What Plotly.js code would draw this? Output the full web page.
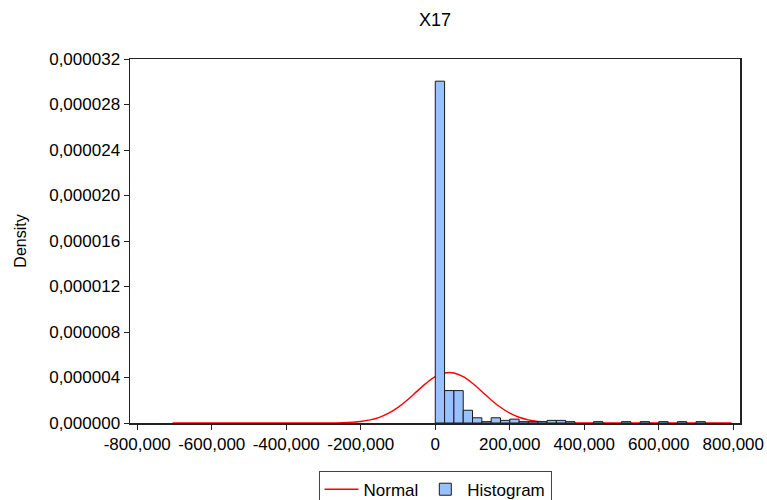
<!DOCTYPE html>
<html>
<head>
<meta charset="utf-8">
<script src="https://cdn.plot.ly/plotly-3.0.1.min.js"></script>
<style>
  html, body { margin: 0; padding: 0; background: #ffffff; }
  #chart { width: 767px; height: 500px; }
</style>
</head>
<body>
<div id="chart"></div>
<script>
// Histogram bins (bin start, width 25,000) and densities
var binStart = [0, 25000, 50000, 75000, 100000, 125000, 150000, 175000, 200000, 225000,
                250000, 275000, 300000, 325000, 350000, 425000, 500000, 550000, 600000, 650000, 700000];
var binDensity = [3.005e-5, 2.85e-6, 2.85e-6, 1.12e-6, 4.6e-7, 1.2e-7, 4.6e-7, 2.3e-7, 3.4e-7, 1.2e-7,
                  1.2e-7, 1.2e-7, 2.3e-7, 2.3e-7, 1.2e-7, 1.2e-7, 1.2e-7, 1.2e-7, 1.2e-7, 1.2e-7, 1.2e-7];
var binWidth = 25000;

// Normal curve points
var normX = [-705000, -400000, -300000, -250000, -200000, -175000, -150000, -125000, -100000, -75000,
             -50000, -25000, 0, 25000, 37600, 50000, 75000, 100000, 125000, 150000,
             175000, 200000, 225000, 250000, 275000, 325000, 400000, 500000, 795000];
var normY = [0, 0, 3.8e-9, 2.66e-8, 1.35e-7, 2.70e-7, 5.02e-7, 8.63e-7, 1.375e-6, 2.025e-6,
             2.76e-6, 3.48e-6, 4.07e-6, 4.40e-6, 4.44e-6, 4.40e-6, 4.07e-6, 3.49e-6, 2.77e-6, 2.03e-6,
             1.38e-6, 8.67e-7, 5.04e-7, 2.72e-7, 1.35e-7, 2.66e-8, 1.3e-9, 0, 0];

// Tick labels
var xTickVals = [-800000, -600000, -400000, -200000, 0, 200000, 400000, 600000, 800000];
var xTickText = ['-800,000', '-600,000', '-400,000', '-200,000', '0', '200,000', '400,000', '600,000', '800,000'];
var yTickVals = [0, 4e-6, 8e-6, 1.2e-5, 1.6e-5, 2.0e-5, 2.4e-5, 2.8e-5, 3.2e-5];
var yTickText = ['0,000000', '0,000004', '0,000008', '0,000012', '0,000016', '0,000020', '0,000024', '0,000028', '0,000032'];

var FONT = 'Liberation Sans, Arial, sans-serif';

var traces = [
  {
    type: 'scatter', mode: 'lines', name: 'Normal',
    x: normX, y: normY,
    line: { color: '#ff0000', width: 1.4, shape: 'spline' },
    xaxis: 'x', yaxis: 'y'
  },
  {
    type: 'bar', name: 'Histogram',
    x: binStart, y: binDensity, width: binWidth, offset: 0,
    marker: { color: '#99c0ff', line: { color: '#1a1a1a', width: 1 } },
    xaxis: 'x', yaxis: 'y2'
  }
];

var layout = {
  width: 767, height: 500,
  margin: { l: 130, r: 27, t: 59, b: 76.5, autoexpand: false },
  paper_bgcolor: '#ffffff', plot_bgcolor: '#ffffff',
  font: { family: FONT, size: 17, color: '#000000' },
  showlegend: true,
  title: { text: 'X17', x: 0.5, xref: 'paper', y: 0.96, yref: 'container', yanchor: 'middle',
           font: { family: FONT, size: 18, color: '#000000' } },
  xaxis: {
    range: [-819500, 818000], tickmode: 'array', tickvals: xTickVals, ticktext: xTickText,
    showgrid: false, zeroline: false, showline: true, mirror: true, linecolor: '#222222', linewidth: 1.5,
    ticks: 'outside', ticklen: 5, tickcolor: '#222222', tickwidth: 1,
    tickfont: { family: FONT, size: 17, color: '#000000' }, fixedrange: true, automargin: false
  },
  yaxis: {
    range: [0, 3.2e-5], tickmode: 'array', tickvals: yTickVals, ticktext: yTickText,
    showgrid: false, zeroline: false, showline: true, mirror: true, linecolor: '#222222', linewidth: 1.5,
    ticks: 'outside', ticklen: 5, tickcolor: '#222222', tickwidth: 1,
    tickfont: { family: FONT, size: 17, color: '#000000' },
    title: { text: 'Density', font: { family: FONT, size: 16, color: '#000000' }, standoff: 18 },
    fixedrange: true, automargin: false
  },
  yaxis2: {
    range: [0, 3.2e-5], overlaying: 'y', visible: false, showgrid: false, zeroline: false, fixedrange: true
  },
  legend: {
    orientation: 'h', x: 0.5, xanchor: 'center', xref: 'paper', y: -0.131, yanchor: 'top',
    bordercolor: '#444444', borderwidth: 1, bgcolor: '#ffffff',
    font: { family: FONT, size: 17, color: '#000000' }, traceorder: 'normal',
    itemwidth: 34
  },
  bargap: 0
};

Plotly.newPlot('chart', traces, layout, { staticPlot: true, displayModeBar: false });
</script>
</body>
</html>
